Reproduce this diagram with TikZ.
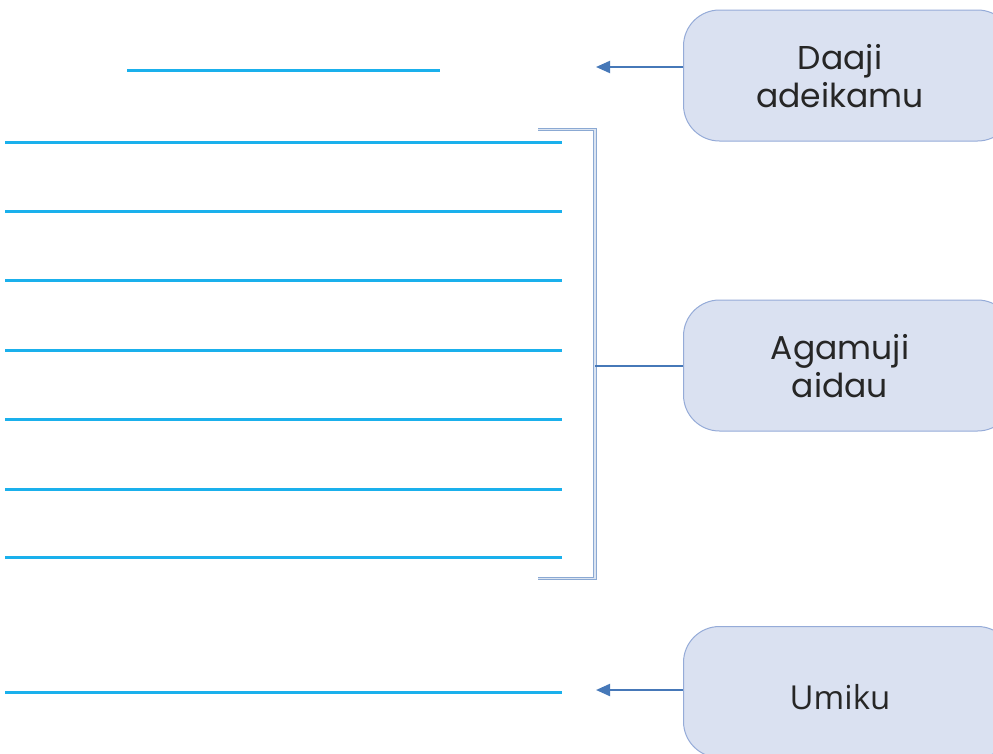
\documentclass[tikz,border=0pt]{standalone}
\usepackage{fontspec}
\setmainfont{Poppins}
\newfontfamily\umikufont{Open Sans}
\usetikzlibrary{arrows.meta}
\definecolor{lineblue}{HTML}{1AB0EC}
\definecolor{boxfill}{HTML}{DAE1F1}
\definecolor{boxdraw}{HTML}{95ABD8}
\definecolor{arrowblue}{HTML}{4678B8}
\definecolor{brack}{HTML}{6E93C8}
\tikzset{
  blank/.style={draw=lineblue, line width=3pt},
  labelbox/.style={draw=boxdraw, fill=boxfill, line width=1pt, rounded corners=36pt, minimum width=330pt, minimum height=131pt, anchor=west},
  lbl/.style={font=\fontsize{33pt}{38pt}\selectfont, align=center, text=black!85},
  arr/.style={draw=arrowblue, line width=2pt, -{Triangle[length=14pt,width=12pt]}},
  brk/.style={draw=brack!80, double=brack!25, double distance=1.2pt, line width=1.3pt}
}
\begin{document}
\begin{tikzpicture}[x=1pt,y=-1pt]
\useasboundingbox (0,0) rectangle (993,753);
\begin{scope}
\clip (0,0) rectangle (993,753);
\node[labelbox] (b1) at (683,75.5) {};
\node[labelbox] (b2) at (683,365.5) {};
\node[labelbox] (b3) at (683,692) {};
\end{scope}
\node[lbl] (t1) at (840,76) {Daaji\\adeikamu};
\node[lbl] (t2) at (840,366) {Agamuji\\aidau};
\node[lbl, font=\umikufont\fontsize{33pt}{38pt}\selectfont] (t3) at (840,697) {Umiku};
% blanks
\coordinate (s0) at (127,70); \coordinate (e0) at (440,70);
\draw[blank] (s0) -- (e0);
\foreach \y [count=\i] in {142,211,280,350,419,489,557,692} {
  \coordinate (s\i) at (5,\y); \coordinate (e\i) at (562,\y);
  \draw[blank] (s\i) -- (e\i);
}
% arrows
\coordinate (a1) at (596,67);
\coordinate (a3) at (596,690);
\draw[arr] (b1.west |- a1) -- (a1);
\draw[arr] (b3.west |- a3) -- (a3);
% bracket
\coordinate (bt) at (538,129.5);
\coordinate (bb) at (538,578.5);
\coordinate (bm) at (595,366);
\draw[brk] (bt) -- (595,129.5) -- (595,578.5) -- (bb);
\draw[draw=arrowblue, line width=2pt] (bm) -- (b2.west |- bm);
\end{tikzpicture}
\end{document}
